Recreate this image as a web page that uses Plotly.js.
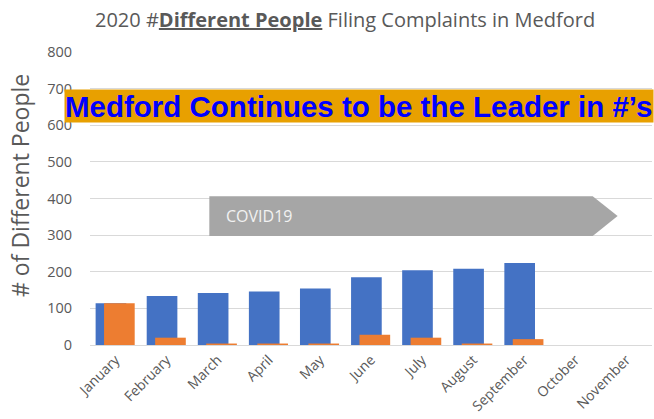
<!DOCTYPE html>
<html>
<head>
<meta charset="utf-8">
<script src="https://cdn.plot.ly/plotly-3.0.1.min.js"></script>
<style>html,body{margin:0;padding:0;background:#fff;}#chart{width:654px;height:419px;}</style>
</head>
<body>
<div id="chart"></div>
<script>
const months = ["January","February","March","April","May","June","July","August","September","October","November"];
const medford = [114, 134, 142, 146, 154, 185, 204, 208, 224, null, null];
const other = [114, 20, 4, 4, 4, 28, 20, 4, 16, 0, 0];
const yTicks = [0,100,200,300,400,500,600,700,800];

const traces = [
  {type:"bar", x:months, y:medford, name:"Medford", marker:{color:"#4472C4"}, width:0.6, offset:-0.39, hoverinfo:"x+y"},
  {type:"bar", x:months, y:other, name:"Other", marker:{color:"#ED7D31"}, width:0.6, offset:-0.225, hoverinfo:"x+y"}
];

const layout = {
  width:654, height:419,
  margin:{l:90, r:2, t:52, b:74},
  paper_bgcolor:"#ffffff", plot_bgcolor:"#ffffff",
  showlegend:false,
  barmode:"overlay",
  font:{family:"Open Sans, sans-serif", color:"#595959"},
  xaxis:{type:"category", tickangle:-45, tickfont:{size:14, color:"#595959"}, showgrid:false, showline:false, ticks:"", range:[-0.5,10.5], ticklabelstandoff:3},
  yaxis:{range:[0,800], tickvals:yTicks, ticktext:yTicks.map(String), tickfont:{size:14.5, color:"#595959"}, gridcolor:"#D9D9D9", gridwidth:1, zeroline:true, zerolinecolor:"#D9D9D9", zerolinewidth:1, ticks:"", ticklabelstandoff:17},
  shapes:[
    {type:"path", xref:"paper", yref:"paper",
     path:"M 0.2123 0.508 L 0.8945 0.508 L 0.9388 0.440 L 0.8945 0.372 L 0.2123 0.372 Z",
     fillcolor:"#A6A6A6", line:{width:0}, layer:"above"}
  ],
  annotations:[
    {xref:"paper", yref:"paper", x:(345-90)/562, y:1+(52-19)/293, text:"2020 #<b><u>Different People</u></b> Filing Complaints in Medford", showarrow:false, font:{size:20, color:"#595959", family:"Open Sans, sans-serif"}, xanchor:"center", yanchor:"middle"},
    {xref:"paper", yref:"paper", x:(20-90)/562, y:(345-186)/293, text:"# of Different People", textangle:-90, showarrow:false, font:{size:23, color:"#595959", family:"Open Sans, sans-serif"}, xanchor:"center", yanchor:"middle"},
    {xref:"paper", yref:"paper", x:(224-90)/562, y:(345-216)/293, text:"COVID19", showarrow:false, font:{size:16, color:"#F2F2F2", family:"Open Sans, sans-serif"}, xanchor:"left", yanchor:"middle"},
    {xref:"paper", yref:"paper", x:(64-90)/562, y:(345-106)/293, text:"<b>Medford Continues to be the Leader in #’s</b>", showarrow:false, font:{size:29.5, color:"#0000FF", family:"Liberation Sans, Arial, sans-serif"}, bgcolor:"#E8A000", xanchor:"left", yanchor:"middle", width:588, height:32, align:"left", borderpad:0}
  ]
};

Plotly.newPlot("chart", traces, layout, {displayModeBar:false, staticPlot:true});
</script>
</body>
</html>
